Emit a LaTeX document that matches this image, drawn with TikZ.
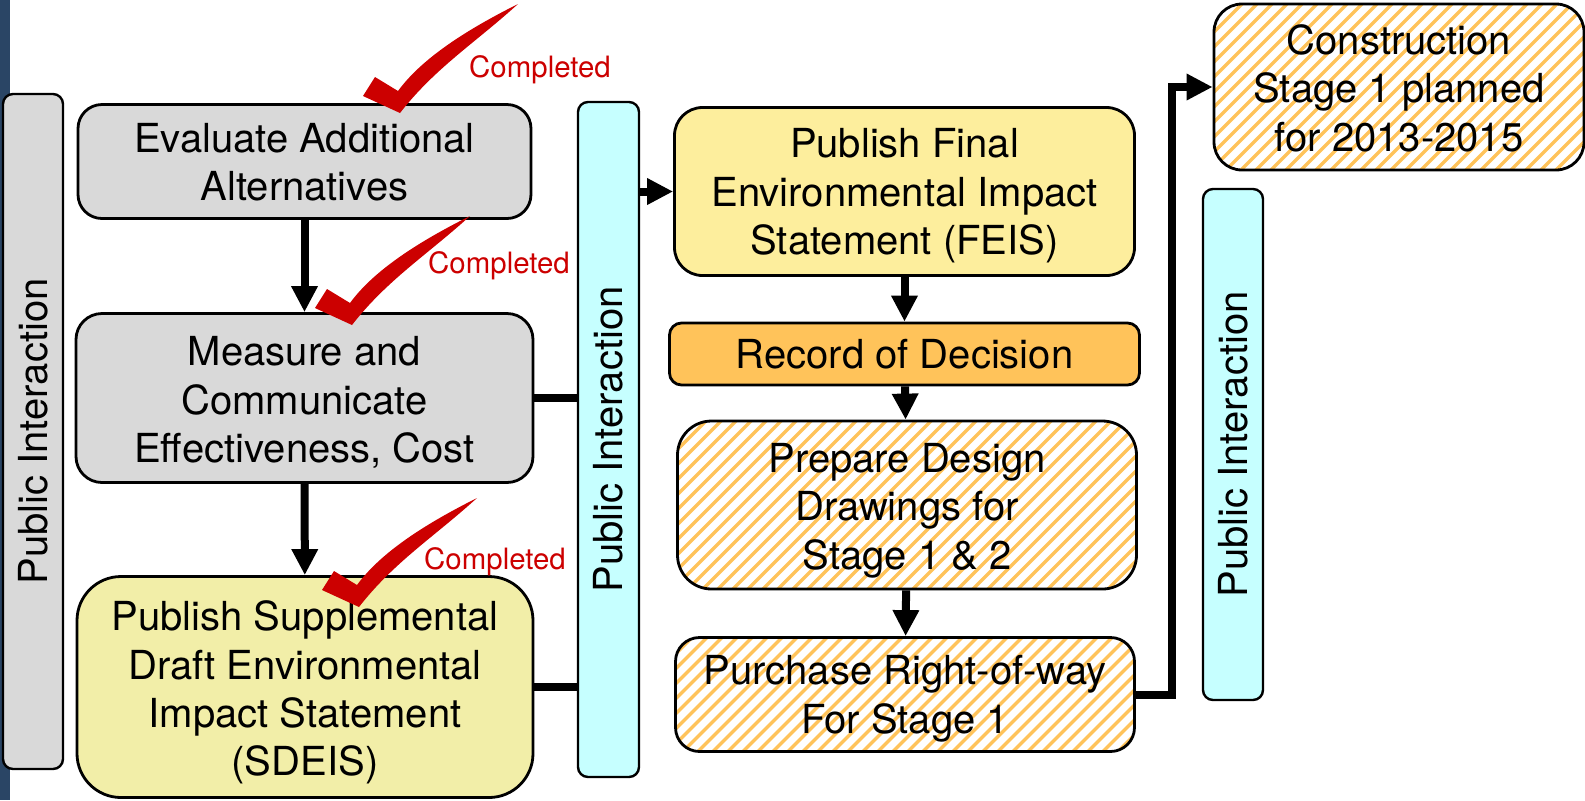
\documentclass[tikz,border=0pt]{standalone}
\usepackage{fontspec}
\setmainfont{TeX Gyre Heros}
\usetikzlibrary{arrows.meta}

\definecolor{stripblue}{HTML}{2A4565}
\definecolor{boxgray}{HTML}{D9D9D9}
\definecolor{barcyan}{HTML}{C6FFFF}
\definecolor{feisyellow}{HTML}{FDEE9D}
\definecolor{sdeisyellow}{HTML}{F2EEA8}
\definecolor{hatchorange}{HTML}{FFC35A}
\definecolor{tickred}{HTML}{CC0000}

% taller first line, pushes the text of a box down
\newcommand{\toprule}[1]{\rule{0pt}{#1}}

\tikzset{
	stage/.style={draw=black,line width=1.4pt,align=center,inner sep=0pt,font=\fontsize{20}{24.2}\selectfont},
	sidebar/.style={draw=black,line width=1.2pt,inner sep=0pt,rounded corners=5pt,font=\fontsize{20}{24}\selectfont},
	hatched/.style={fill=white,path picture={
		\foreach \h in {-900,-885,...,500}
			\draw[hatchorange,line width=1.7pt] ([shift={(\h,300)}]path picture bounding box.center) -- ++(600,-600);
	}},
	flow/.style={line width=4pt,-{Triangle[length=13pt,width=12.5pt]}},
	link/.style={line width=4pt},
	donelabel/.style={text=tickred,inner sep=0pt,font=\fontsize{14.7}{17}\selectfont},
	pics/donemark/.style={code={
		\fill[tickred] (-37,-17) -- (-25,-36) -- (-2,-22) .. controls (20,-52) and (60,-80) .. (118,-109)
			.. controls (75,-70) and (35,-45) .. (0,0) -- cycle;
	}}
}

\begin{document}
\begin{tikzpicture}[x=0.5pt,y=-0.5pt]
	\useasboundingbox (0,0) rectangle (1585,800);
	
	% Draw strip at the left edge
	\fill[stripblue] (0,0) rectangle (10,800);
	
	% Draw public interaction bars
	\node[sidebar,fill=boxgray,minimum width=30pt,minimum height=337.5pt] (leftbar) at (33,431.5) {\rotatebox{90}{Public Interaction}};
	\node[sidebar,fill=barcyan,minimum width=30.5pt,minimum height=337.5pt] (midbar) at (608.5,439.5) {\rotatebox{90}{Public Interaction}};
	\node[sidebar,fill=barcyan,minimum width=30pt,minimum height=255.5pt] (rightbar) at (1233,444.5) {\rotatebox{90}{Public Interaction}};
	
	% Draw left column
	\node[stage,fill=boxgray,rounded corners=12pt,minimum width=226.5pt,minimum height=57pt] (evaluate) at (304.5,161.5) {\toprule{15.5pt}Evaluate Additional\\Alternatives};
	\node[stage,fill=boxgray,rounded corners=13pt,minimum width=228.5pt,minimum height=84.5pt] (measure) at (304.5,398) {\toprule{19pt}Measure and\\Communicate\\Effectiveness, Cost};
	\node[stage,fill=sdeisyellow,rounded corners=22pt,minimum width=228pt,minimum height=110.5pt] (sdeis) at (305,687) {\toprule{20.5pt}Publish Supplemental\\Draft Environmental\\Impact Statement\\(SDEIS)};
	
	% Draw middle column
	\node[stage,fill=feisyellow,rounded corners=14pt,minimum width=230pt,minimum height=84pt] (feis) at (904.5,191.5) {\toprule{19pt}Publish Final\\Environmental Impact\\Statement (FEIS)};
	\node[stage,fill=hatchorange,rounded corners=6pt,minimum width=235pt,minimum height=31pt] (record) at (904.5,354) {Record of Decision};
	\node[stage,hatched,rounded corners=17pt,minimum width=229.5pt,minimum height=84pt] (prepare) at (907,505) {\toprule{20pt}Prepare Design\\Drawings for\\Stage 1 \& 2};
	\node[stage,hatched,rounded corners=12pt,minimum width=229.5pt,minimum height=57pt] (purchase) at (905,694.5) {\toprule{19pt}Purchase Right-of-way\\For Stage 1};
	
	% Draw construction box
	\node[stage,hatched,rounded corners=14pt,minimum width=185pt,minimum height=83pt] (construct) at (1399,87) {\toprule{16pt}Construction\\Stage 1 planned\\for 2013-2015};
	
	% Draw check marks
	\pic at (400,113) {donemark};
	\pic at (352,325) {donemark};
	\pic at (359,607) {donemark};
	\node[donelabel] (doneone) at (540,70) {Completed};
	\node[donelabel] (donetwo) at (499,266) {Completed};
	\node[donelabel] (donethree) at (495,562) {Completed};
	
	% Draw connectors
	\coordinate (turn) at (1172,87);
	\draw[flow] (evaluate) -- (measure);
	\draw[flow] (measure) -- (sdeis);
	\draw[link] (measure.east) -- (measure.east -| midbar.west);
	\draw[link] (sdeis.east) -- (sdeis.east -| midbar.west);
	\draw[flow] (feis.west -| midbar.east) -- (feis.west);
	\draw[flow] (feis) -- (record);
	\draw[flow] (record) -- (prepare);
	\draw[flow] (prepare) -- (purchase);
	\draw[flow] (purchase.east) -| (turn) -- (construct.west);
\end{tikzpicture}
\end{document}
